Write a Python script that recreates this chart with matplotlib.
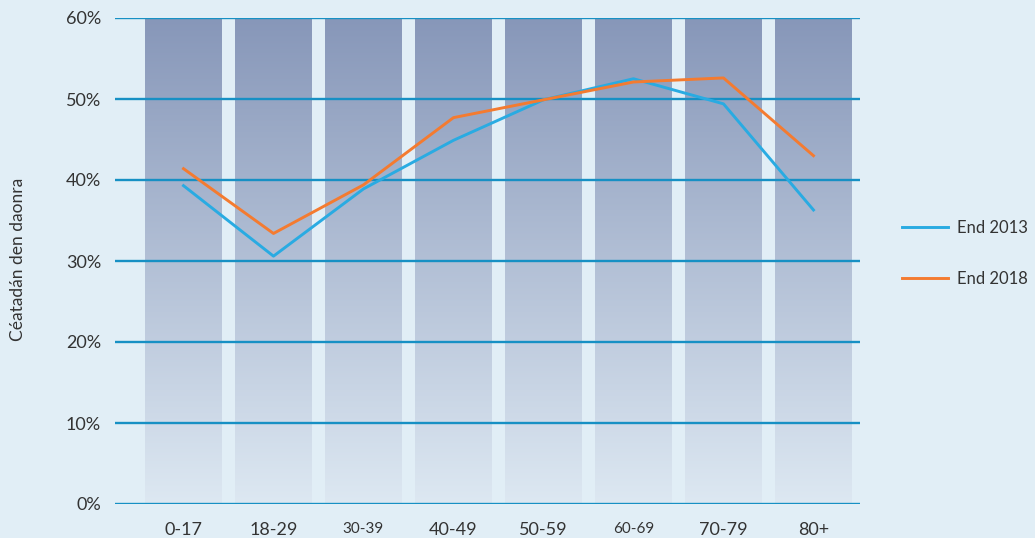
import numpy as np
import matplotlib
matplotlib.use('Agg')
import matplotlib.pyplot as plt
from matplotlib.lines import Line2D

plt.rcParams['font.family'] = ['Lato', 'DejaVu Sans']

categories = ['0-17', '18-29', '30-39', '40-49', '50-59', '60-69', '70-79', '80+']
end_2013 = [39.3, 30.6, 38.9, 44.9, 49.9, 52.5, 49.4, 36.3]
end_2018 = [41.4, 33.4, 39.4, 47.7, 49.9, 52.1, 52.6, 43.0]
column_top = [60] * len(categories)
y_ticks = [0, 10, 20, 30, 40, 50, 60]

bg = '#e1eef6'
fig = plt.figure(figsize=(10.35, 5.38), dpi=100, facecolor=bg)
ax = fig.add_axes([115 / 1035, 34 / 538, 745 / 1035, 486 / 538])
ax.set_facecolor(bg)

x = np.arange(len(categories))
bars = ax.bar(x, column_top, width=0.855, color='none', zorder=1)

# vertical gradient fill for the background columns
grad = np.linspace(0, 1, 256).reshape(-1, 1)
cmap = matplotlib.colors.LinearSegmentedColormap.from_list('col', ['#dde8f2', '#8797b9'])
for b in bars:
    im = ax.imshow(grad, cmap=cmap, aspect='auto', origin='lower',
                   extent=(b.get_x(), b.get_x() + b.get_width(), 0, b.get_height()), zorder=1)
    im.set_clip_path(b)

for t in y_ticks:
    ax.axhline(t, color='#1790c4', lw=1.7, zorder=2)

ax.plot(x, end_2013, color='#29abe2', lw=2.1, zorder=3)
ax.plot(x, end_2018, color='#f47b30', lw=2.1, zorder=3)

ax.set_xlim(-0.761, 7.517)
ax.set_ylim(0, 60)
ax.set_yticks(y_ticks)
ax.set_yticklabels([f'{t}%' for t in y_ticks], fontsize=13, color='#333333')
ax.set_xticks(x)
ax.set_xticklabels(categories, fontsize=13, color='#333333')
for lab in ax.get_xticklabels():
    if lab.get_text() in ('30-39', '60-69'):
        lab.set_fontsize(11)
ax.tick_params(length=0)
ax.tick_params(axis='y', pad=10)
ax.tick_params(axis='x', pad=13)
for s in ax.spines.values():
    s.set_visible(False)

fig.text(18 / 1035, 1 - 259 / 538, 'Céatadán den daonra', rotation=90, fontsize=12.5,
         color='#333333', ha='center', va='center')

# legend
handles = [Line2D([], [], color='#29abe2', lw=2.1), Line2D([], [], color='#f47b30', lw=2.1)]
leg = fig.legend(handles, ['End 2013', 'End 2018'], loc='center left',
                 bbox_to_anchor=(902 / 1035, 1 - 253.5 / 538), frameon=False,
                 borderpad=0, borderaxespad=0,
                 fontsize=12, handlelength=2.75, handletextpad=0.55, labelspacing=2.1)
for t in leg.get_texts():
    t.set_color('#333333')

fig.savefig('out.png', dpi=100, facecolor=bg)
